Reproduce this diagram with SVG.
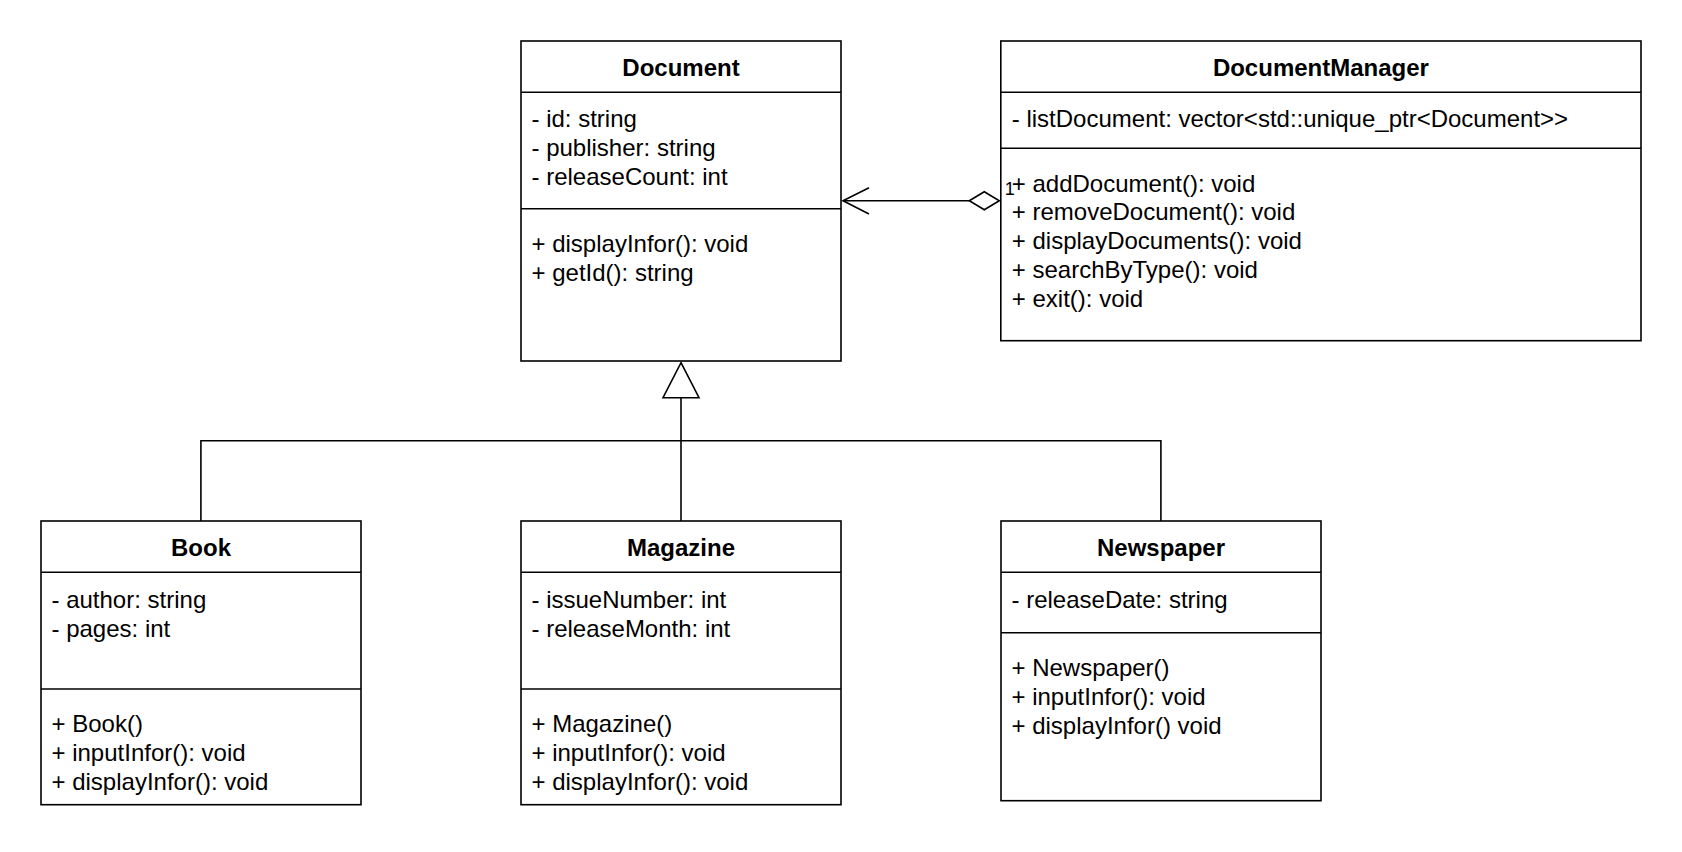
<svg xmlns="http://www.w3.org/2000/svg" width="1682" height="852" viewBox="0 0 1682 852">
<style>
  .box { fill: #ffffff; stroke: #000000; stroke-width: 1.6; }
  .div { stroke: #000000; stroke-width: 1.6; fill: none; }
  .edge { stroke: #000000; stroke-width: 1.6; fill: none; }
  .title { font-family: "Liberation Sans", Arial, Helvetica, sans-serif; font-size: 24px; font-weight: bold; fill: #000000; text-anchor: middle; }
  .t { font-family: "Liberation Sans", Arial, Helvetica, sans-serif; font-size: 24px; fill: #000000; }
  .lbl { font-family: "Liberation Sans", Arial, Helvetica, sans-serif; font-size: 18px; fill: #000000; }
</style>
<rect width="1682" height="852" fill="#ffffff"/>

<g id="Document">
  <rect class="box" x="521" y="41" width="320" height="320"/>
  <line class="div" x1="521" y1="92.3" x2="841" y2="92.3"/>
  <line class="div" x1="521" y1="208.7" x2="841" y2="208.7"/>
  <text class="title" x="681" y="75.5">Document</text>
  <text class="t" x="531.5" y="127">- id: string</text>
  <text class="t" x="531.5" y="156">- publisher: string</text>
  <text class="t" x="531.5" y="185">- releaseCount: int</text>
  <text class="t" x="531.5" y="252">+ displayInfor(): void</text>
  <text class="t" x="531.5" y="281">+ getId(): string</text>
</g>

<g id="DocumentManager">
  <rect class="box" x="1000.8" y="41" width="640.2" height="299.7"/>
  <line class="div" x1="1000.8" y1="92.3" x2="1641" y2="92.3"/>
  <line class="div" x1="1000.8" y1="148.3" x2="1641" y2="148.3"/>
  <text class="title" x="1320.9" y="75.5">DocumentManager</text>
  <text class="t" x="1011.8" y="126.7">- listDocument: vector&lt;std::unique_ptr&lt;Document&gt;&gt;</text>
  <text class="t" x="1011.8" y="191.5">+ addDocument(): void</text>
  <text class="t" x="1011.8" y="220.3">+ removeDocument(): void</text>
  <text class="t" x="1011.8" y="249.1">+ displayDocuments(): void</text>
  <text class="t" x="1011.8" y="277.9">+ searchByType(): void</text>
  <text class="t" x="1011.8" y="306.7">+ exit(): void</text>
</g>

<g id="Book">
  <rect class="box" x="41" y="521" width="320" height="283.7"/>
  <line class="div" x1="41" y1="572.3" x2="361" y2="572.3"/>
  <line class="div" x1="41" y1="689" x2="361" y2="689"/>
  <text class="title" x="201" y="555.5">Book</text>
  <text class="t" x="51.5" y="607.5">- author: string</text>
  <text class="t" x="51.5" y="636.5">- pages: int</text>
  <text class="t" x="51.5" y="732">+ Book()</text>
  <text class="t" x="51.5" y="761">+ inputInfor(): void</text>
  <text class="t" x="51.5" y="789.5">+ displayInfor(): void</text>
</g>

<g id="Magazine">
  <rect class="box" x="521" y="521" width="320" height="283.7"/>
  <line class="div" x1="521" y1="572.3" x2="841" y2="572.3"/>
  <line class="div" x1="521" y1="689" x2="841" y2="689"/>
  <text class="title" x="681" y="555.5">Magazine</text>
  <text class="t" x="531.5" y="607.5">- issueNumber: int</text>
  <text class="t" x="531.5" y="636.5">- releaseMonth: int</text>
  <text class="t" x="531.5" y="732">+ Magazine()</text>
  <text class="t" x="531.5" y="761">+ inputInfor(): void</text>
  <text class="t" x="531.5" y="789.5">+ displayInfor(): void</text>
</g>

<g id="Newspaper">
  <rect class="box" x="1001" y="521" width="320" height="279.7"/>
  <line class="div" x1="1001" y1="572.3" x2="1321" y2="572.3"/>
  <line class="div" x1="1001" y1="632.7" x2="1321" y2="632.7"/>
  <text class="title" x="1161" y="555.5">Newspaper</text>
  <text class="t" x="1011.5" y="607.5">- releaseDate: string</text>
  <text class="t" x="1011.5" y="676">+ Newspaper()</text>
  <text class="t" x="1011.5" y="704.8">+ inputInfor(): void</text>
  <text class="t" x="1011.5" y="733.6">+ displayInfor() void</text>
</g>

<g id="connectors">
  <!-- generalization tree -->
  <polyline class="edge" points="200.9,521 200.9,440.7 1160.9,440.7 1160.9,521"/>
  <line class="edge" x1="681" y1="521" x2="681" y2="397.7"/>
  <polygon points="681,362.7 699,397.7 663,397.7" fill="#ffffff" stroke="#000000" stroke-width="1.6" stroke-linejoin="miter"/>
  <!-- aggregation -->
  <line class="edge" x1="843" y1="200.7" x2="969.3" y2="200.7"/>
  <polyline class="edge" points="869,187.7 843,200.7 869,214"/>
  <polygon points="969.3,200.7 984.3,191.7 999.3,200.7 984.3,209.7" fill="#ffffff" stroke="#000000" stroke-width="1.6"/>
  <text class="lbl" x="1004.8" y="195">1</text>
</g>
</svg>
